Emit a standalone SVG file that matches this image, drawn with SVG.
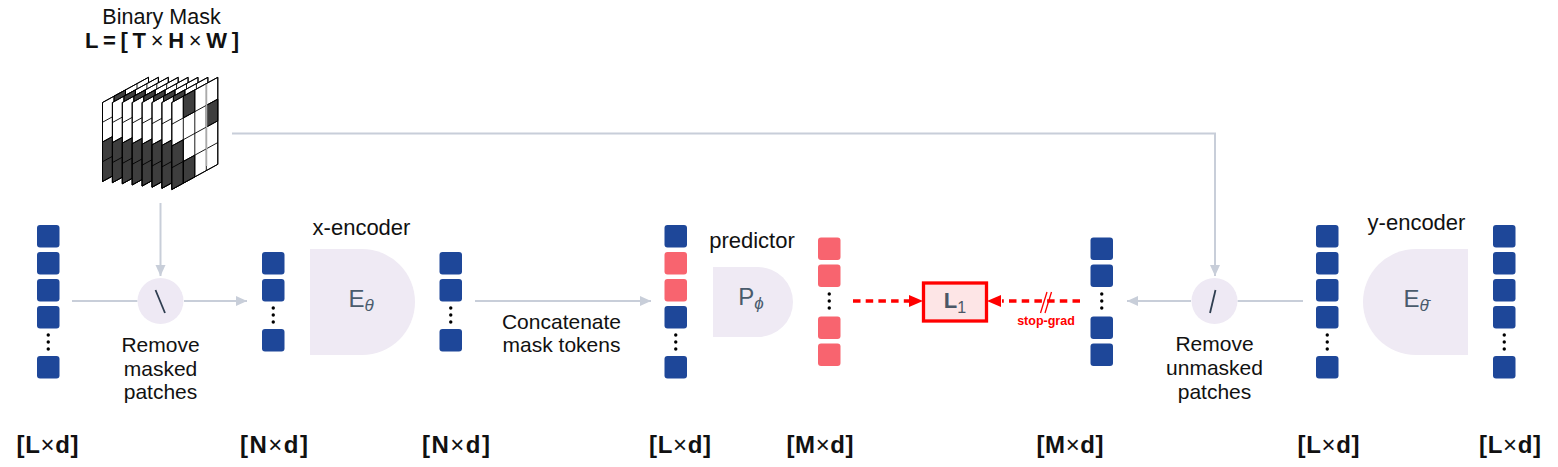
<svg xmlns="http://www.w3.org/2000/svg" xmlns:xlink="http://www.w3.org/1999/xlink" width="1558" height="467" viewBox="0 0 1558 467">
<style>
text{font-family:"Liberation Sans",Arial,sans-serif;fill:#111}
.lbl{font-size:21px;text-anchor:middle}
.hd{font-size:22px;text-anchor:middle}
.dim{font-size:24px;font-weight:bold;text-anchor:middle}
.thin{font-weight:normal}
.sym{font-size:24px;fill:#4A5B6C;text-anchor:middle}
.sub{font-size:17px;font-style:italic;fill:#4A5B6C}
.tb{fill:#1E4799}
.tp{fill:#F8646F}
.dot{fill:#000}
.enc{fill:#EFEAF4}
.circ{fill:#EEE9F4}
.con{fill:none;stroke:#C8CED9;stroke-width:2}
.red{fill:none;stroke:#FF0000;stroke-width:3.3;stroke-dasharray:7.5 5.2}
.fr{fill:#fff;stroke:#000;stroke-width:1;vector-effect:non-scaling-stroke}
.dk{fill:#3E3E3E;stroke:#000;stroke-width:1;vector-effect:non-scaling-stroke}
.gl{fill:none;stroke:#000;stroke-width:0.9;vector-effect:non-scaling-stroke}
</style>
<defs>
<marker id="ag" markerUnits="userSpaceOnUse" markerWidth="12" markerHeight="11" refX="11" refY="5.5" orient="auto">
<path d="M0,0.5 L11,5.5 L0,10.5 z" fill="#C8CED9"/>
</marker>
<g id="frame">
<rect class="fr" width="4" height="4"/>
<path class="dk" d="M0,2h1v2h-1z M1,0h1v1h-1z M1,3h1v1h-1z M3,1h1v1h-1z"/>
<path class="gl" d="M1,0v4M2,0v4M3,0v4M0,1h4M0,2h4M0,3h4"/>
<rect class="gl" width="4" height="4"/>
</g>
<rect id="tok" width="22.5" height="22.5" rx="3"/>
<g id="dots"><circle cx="0" cy="0" r="1.7"/><circle cx="0" cy="7" r="1.7"/><circle cx="0" cy="14" r="1.7"/></g>
</defs>

<g id="connectors">
<path class="con" d="M160.5,203 V276" marker-end="url(#ag)"/>
<path class="con" d="M72,301 H137.5"/>
<path class="con" d="M184,301 H247" marker-end="url(#ag)"/>
<path class="con" d="M475,301 H651" marker-end="url(#ag)"/>
<path class="con" d="M232,133.5 H1215 V276" marker-end="url(#ag)"/>
<path class="con" d="M1303,301 H1237.5"/>
<path class="con" d="M1191,301 H1127" marker-end="url(#ag)"/>
<path class="red" d="M853,301 H910"/>
<polygon points="923,301 909,295 909,307" fill="#FF0000"/>
<path class="red" d="M1080,301 H1002"/>
<polygon points="987,301 1001,295 1001,307" fill="#FF0000"/>
<path d="M1040.5,313 L1047,292 M1045,313 L1051.5,292" stroke="#FF0000" stroke-width="1.3" fill="none"/>
<text x="1046" y="325" style="font-size:12.5px;font-weight:bold;fill:#FF0000;text-anchor:middle">stop-grad</text>
</g>

<g id="binary-mask">
<text class="hd" x="161.5" y="23.5" style="font-size:21.5px">Binary Mask</text>
<text class="dim" x="162" y="48" style="font-size:22px" textLength="154" lengthAdjust="spacing">L=[T<tspan class="thin">×</tspan>H<tspan class="thin">×</tspan>W]</text>
<use xlink:href="#frame" transform="matrix(11.5 -6.3 0 19.75 102.5 102.5)"/>
<use xlink:href="#frame" transform="matrix(11.5 -6.3 0 20.04 112.4 102.5)"/>
<use xlink:href="#frame" transform="matrix(11.5 -6.3 0 20.32 122.3 102.5)"/>
<use xlink:href="#frame" transform="matrix(11.5 -6.3 0 20.61 132.2 102.5)"/>
<use xlink:href="#frame" transform="matrix(11.5 -6.3 0 20.89 142.1 102.5)"/>
<use xlink:href="#frame" transform="matrix(11.5 -6.3 0 21.18 152.0 102.5)"/>
<use xlink:href="#frame" transform="matrix(11.5 -6.3 0 21.46 161.9 102.5)"/>
<use xlink:href="#frame" transform="matrix(11.5 -6.3 0 21.75 171.8 102.5)"/>
<line x1="206.5" y1="84" x2="206.5" y2="166" stroke="#AAAAAA" stroke-width="1.5"/>
</g>

<g id="input-tokens">
<use xlink:href="#tok" class="tb" x="37" y="225"/>
<use xlink:href="#tok" class="tb" x="37" y="252"/>
<use xlink:href="#tok" class="tb" x="37" y="279"/>
<use xlink:href="#tok" class="tb" x="37" y="306"/>
<use xlink:href="#dots" class="dot" x="48.25" y="335"/>
<use xlink:href="#tok" class="tb" x="37" y="356"/>
<text class="dim" x="47.5" y="453" textLength="62" lengthAdjust="spacing">[L<tspan class="thin">×</tspan>d]</text>
</g>

<g id="remove-masked">
<circle class="circ" cx="160.5" cy="301" r="23"/>
<line x1="155.5" y1="290" x2="165" y2="313" stroke="#2F3E50" stroke-width="1.8"/>
<text class="lbl" x="160.5" y="352">Remove</text>
<text class="lbl" x="160.5" y="375.5">masked</text>
<text class="lbl" x="160.5" y="399">patches</text>
</g>

<g id="context-tokens">
<use xlink:href="#tok" class="tb" x="262" y="252"/>
<use xlink:href="#tok" class="tb" x="262" y="279"/>
<use xlink:href="#dots" class="dot" x="273.25" y="308"/>
<use xlink:href="#tok" class="tb" x="262" y="329"/>
<text class="dim" x="274" y="453" textLength="68" lengthAdjust="spacing">[N<tspan class="thin">×</tspan>d]</text>
</g>

<g id="x-encoder">
<text class="hd" x="361.5" y="235">x-encoder</text>
<path class="enc" d="M310,249 H362 A53,53 0 0 1 362,355 H310 Z"/>
<text class="sym" x="361" y="307">E<tspan class="sub" dy="4">θ</tspan></text>
</g>

<g id="encoded-tokens">
<use xlink:href="#tok" class="tb" x="439.5" y="252"/>
<use xlink:href="#tok" class="tb" x="439.5" y="279"/>
<use xlink:href="#dots" class="dot" x="450.75" y="308"/>
<use xlink:href="#tok" class="tb" x="439.5" y="329"/>
<text class="dim" x="456" y="453" textLength="68" lengthAdjust="spacing">[N<tspan class="thin">×</tspan>d]</text>
</g>

<g id="concat-label">
<text class="lbl" x="561.5" y="328.5">Concatenate</text>
<text class="lbl" x="561.5" y="352">mask tokens</text>
</g>

<g id="mixed-tokens">
<use xlink:href="#tok" class="tb" x="664.5" y="225"/>
<use xlink:href="#tok" class="tp" x="664.5" y="252"/>
<use xlink:href="#tok" class="tp" x="664.5" y="279"/>
<use xlink:href="#tok" class="tb" x="664.5" y="306"/>
<use xlink:href="#dots" class="dot" x="675.75" y="335"/>
<use xlink:href="#tok" class="tb" x="664.5" y="356"/>
<text class="dim" x="680" y="453" textLength="62" lengthAdjust="spacing">[L<tspan class="thin">×</tspan>d]</text>
</g>

<g id="predictor">
<text class="hd" x="752" y="248">predictor</text>
<path class="enc" d="M713,267 H758 A35,35 0 0 1 758,337 H713 Z"/>
<text class="sym" x="751" y="305">P<tspan class="sub" dy="4">ϕ</tspan></text>
</g>

<g id="predicted-tokens">
<use xlink:href="#tok" class="tp" x="818" y="237.5"/>
<use xlink:href="#tok" class="tp" x="818" y="264.5"/>
<use xlink:href="#dots" class="dot" x="829.25" y="294"/>
<use xlink:href="#tok" class="tp" x="818" y="316.5"/>
<use xlink:href="#tok" class="tp" x="818" y="343.5"/>
<text class="dim" x="820" y="453" textLength="67" lengthAdjust="spacing">[M<tspan class="thin">×</tspan>d]</text>
</g>

<g id="loss">
<rect x="923.5" y="283" width="63" height="38" fill="#FDE5E6" stroke="#FF0000" stroke-width="3.3"/>
<text x="955" y="308" style="font-size:22px;font-weight:bold;fill:#4B5766;text-anchor:middle">L<tspan dy="5" style="font-size:16px;font-weight:normal">1</tspan></text>
</g>

<g id="target-tokens">
<use xlink:href="#tok" class="tb" x="1090.5" y="237.5"/>
<use xlink:href="#tok" class="tb" x="1090.5" y="264.5"/>
<use xlink:href="#dots" class="dot" x="1101.75" y="294"/>
<use xlink:href="#tok" class="tb" x="1090.5" y="316.5"/>
<use xlink:href="#tok" class="tb" x="1090.5" y="343.5"/>
<text class="dim" x="1070" y="453" textLength="67" lengthAdjust="spacing">[M<tspan class="thin">×</tspan>d]</text>
</g>

<g id="remove-unmasked">
<circle class="circ" cx="1214.5" cy="301" r="23"/>
<line x1="1215.5" y1="290" x2="1210" y2="313" stroke="#2F3E50" stroke-width="1.8"/>
<text class="lbl" x="1214.5" y="350.5">Remove</text>
<text class="lbl" x="1214.5" y="375">unmasked</text>
<text class="lbl" x="1214.5" y="398.5">patches</text>
</g>

<g id="y-input-tokens">
<use xlink:href="#tok" class="tb" x="1316" y="225"/>
<use xlink:href="#tok" class="tb" x="1316" y="252"/>
<use xlink:href="#tok" class="tb" x="1316" y="279"/>
<use xlink:href="#tok" class="tb" x="1316" y="306"/>
<use xlink:href="#dots" class="dot" x="1327.25" y="335"/>
<use xlink:href="#tok" class="tb" x="1316" y="356"/>
<text class="dim" x="1328.5" y="453" textLength="62" lengthAdjust="spacing">[L<tspan class="thin">×</tspan>d]</text>
</g>

<g id="y-encoder">
<text class="hd" x="1416.5" y="230">y-encoder</text>
<path class="enc" d="M1468,249 H1416 A53,53 0 0 0 1416,355 H1468 Z"/>
<text class="sym" x="1416" y="307">E<tspan class="sub" dy="4">θ̄</tspan></text>
</g>

<g id="y-output-tokens">
<use xlink:href="#tok" class="tb" x="1493" y="225"/>
<use xlink:href="#tok" class="tb" x="1493" y="252"/>
<use xlink:href="#tok" class="tb" x="1493" y="279"/>
<use xlink:href="#tok" class="tb" x="1493" y="306"/>
<use xlink:href="#dots" class="dot" x="1504.25" y="335"/>
<use xlink:href="#tok" class="tb" x="1493" y="356"/>
<text class="dim" x="1510" y="453" textLength="62" lengthAdjust="spacing">[L<tspan class="thin">×</tspan>d]</text>
</g>
</svg>
